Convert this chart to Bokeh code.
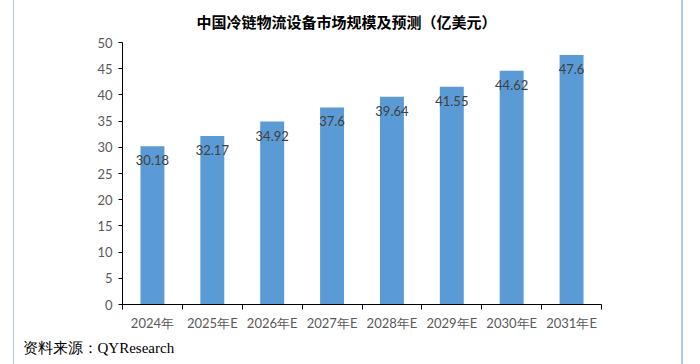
from bokeh.plotting import figure
from bokeh.models import ColumnDataSource, Range1d, FixedTicker, Title
from bokeh.core.properties import value
from bokeh.embed import file_html
from bokeh.resources import INLINE

categories = ["2024年", "2025年E", "2026年E", "2027年E", "2028年E", "2029年E", "2030年E", "2031年E"]
values = [30.18, 32.17, 34.92, 37.6, 39.64, 41.55, 44.62, 47.6]
value_labels = ["30.18", "32.17", "34.92", "37.6", "39.64", "41.55", "44.62", "47.6"]
y_ticks = [0, 5, 10, 15, 20, 25, 30, 35, 40, 45, 50]
title_text = "中国冷链物流设备市场规模及预测（亿美元）"
source_text = "资料来源：QYResearch"

xs = [i + 0.5 for i in range(len(categories))]
src = ColumnDataSource(dict(x=xs, top=values, lab=value_labels))

p = figure(width=670, height=364, output_backend="svg", toolbar_location=None,
           x_range=Range1d(0, len(categories)), y_range=Range1d(0, 50),
           min_border_left=108, min_border_right=83, min_border_top=42, min_border_bottom=60)
p.styles = {"margin-left": "13px", "border-left": "1px solid #b4c7e7", "border-right": "2px solid #b4c7e7"}
p.outline_line_color = None
p.xgrid.visible = False
p.ygrid.visible = False

p.vbar(x="x", top="top", width=0.4, bottom=0, source=src, fill_color="#5b9bd5", line_color=None)
p.text(x="x", y="top", text="lab", source=src, text_align="center", text_baseline="middle",
       y_offset=14, text_font=value("Lato"), text_font_size="13px", text_color="#404040")

# axes
p.xaxis.ticker = FixedTicker(ticks=xs, minor_ticks=list(range(len(categories) + 1)))
p.xaxis.major_label_overrides = {x: c for x, c in zip(xs, categories)}
p.xaxis.major_tick_out = 0
p.xaxis.major_tick_in = 0
p.xaxis.minor_tick_out = 5
p.xaxis.minor_tick_in = 0
p.xaxis.minor_tick_line_color = "black"
p.xaxis.axis_line_color = "black"
p.xaxis.major_label_standoff = 5
p.yaxis.ticker = FixedTicker(ticks=y_ticks)
p.yaxis.major_tick_out = 4
p.yaxis.major_tick_in = 0
p.yaxis.minor_tick_line_color = None
p.yaxis.axis_line_color = "black"
p.yaxis.major_tick_line_color = "black"
p.yaxis.major_label_standoff = 6
for ax in (p.xaxis, p.yaxis):
    ax.major_label_text_font = "Lato"
    ax.major_label_text_font_size = "13px"
    ax.major_label_text_color = "#595959"

# title and source
p.title.text = title_text
p.title.align = "left"
p.title.offset = 74
p.title.text_font = "Noto Sans CJK SC"
p.title.text_font_style = "bold"
p.title.text_font_size = "15px"
p.title.text_color = "#000000"
p.title.vertical_align = "top"
p.title.standoff = 18

src_title = Title(text=source_text, align="left", offset=-100, text_font="Liberation Serif",
                  text_font_style="normal", text_font_size="15px", text_color="#000000", standoff=9)
p.add_layout(src_title, "below")

open("out.html", "w").write(file_html(p, INLINE))
